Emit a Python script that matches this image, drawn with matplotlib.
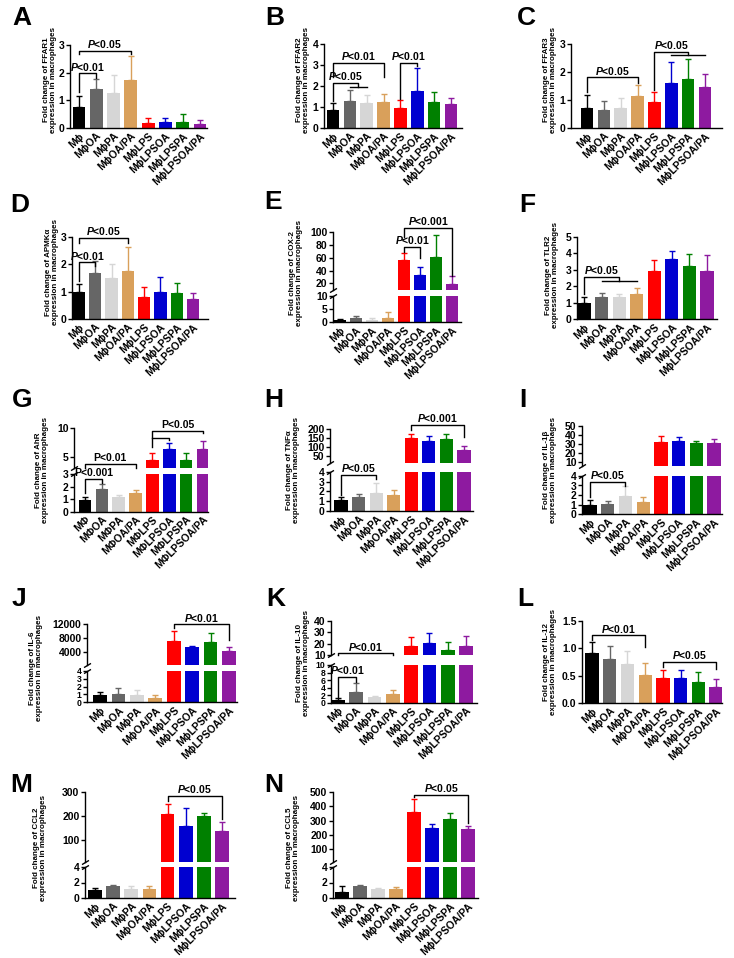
import numpy as np
import matplotlib.pyplot as plt

plt.rcParams['font.family'] = ['Liberation Sans', 'DejaVu Sans']
plt.rcParams['font.weight'] = 'bold'
plt.rcParams['mathtext.fontset'] = 'custom'
plt.rcParams['mathtext.it'] = 'Liberation Sans:italic:bold'
plt.rcParams['mathtext.rm'] = 'Liberation Sans:bold'

# groups and colours
groups = ["Mϕ", "MϕOA", "MϕPA", "MϕOA/PA", "MϕLPS", "MϕLPSOA", "MϕLPSPA", "MϕLPSOA/PA"]
groups_G = [g.replace("ϕ", "Φ") for g in groups]
colors = ["#000000", "#666666", "#d6d6d6", "#d9a05b", "#ff0000", "#0000d0", "#008000", "#8e1aa0"]

# mean values and top of error bar (mean + SD)
ffar1_mean = [0.75, 1.42, 1.25, 1.75, 0.18, 0.20, 0.22, 0.15]
ffar1_top = [1.15, 1.78, 1.90, 2.62, 0.35, 0.35, 0.50, 0.30]
ffar2_mean = [0.85, 1.30, 1.20, 1.25, 0.93, 1.77, 1.25, 1.13]
ffar2_top = [1.17, 1.82, 1.57, 1.62, 1.33, 2.85, 1.73, 1.45]
ffar3_mean = [0.72, 0.65, 0.72, 1.15, 0.93, 1.62, 1.75, 1.47]
ffar3_top = [1.17, 0.97, 1.08, 1.55, 1.30, 2.37, 2.47, 1.93]
ampk_mean = [0.97, 1.68, 1.50, 1.75, 0.82, 0.98, 0.95, 0.75]
ampk_top = [1.27, 2.13, 2.02, 2.62, 1.18, 1.55, 1.30, 0.95]
cox2_mean = [0.8, 1.5, 1.0, 1.5, 56, 33, 62, 19]
cox2_top = [1.3, 2.2, 1.5, 3.8, 67, 46, 96, 31]
tlr2_mean = [1.00, 1.37, 1.35, 1.55, 2.90, 3.68, 3.22, 2.93]
tlr2_top = [1.37, 1.57, 1.50, 1.87, 3.60, 4.12, 3.98, 3.88]
ahr_mean = [0.95, 1.80, 1.15, 1.45, 4.4, 6.3, 4.5, 6.3]
ahr_top = [1.15, 2.20, 1.30, 1.70, 5.6, 7.5, 5.6, 7.7]
tnf_mean = [1.10, 1.45, 1.80, 1.60, 148, 133, 147, 83]
tnf_top = [1.40, 1.70, 2.85, 2.15, 172, 160, 175, 108]
il1b_mean = [1.00, 1.05, 1.90, 1.30, 32, 33, 30.5, 31]
il1b_top = [1.45, 1.40, 2.90, 1.75, 39, 38, 33, 35]
il6_mean = [0.95, 1.10, 0.95, 0.55, 7200, 5300, 6900, 4200]
il6_top = [1.35, 1.80, 1.60, 0.95, 9900, 5700, 9500, 5300]
il10_mean = [0.8, 2.9, 1.6, 2.2, 18, 20.5, 14.5, 17.5]
il10_top = [1.2, 5.1, 1.9, 3.5, 26, 29, 21, 27]
il12_mean = [0.92, 0.80, 0.72, 0.52, 0.45, 0.45, 0.38, 0.30]
il12_top = [1.12, 1.05, 0.95, 0.73, 0.60, 0.60, 0.56, 0.43]
ccl2_mean = [1.0, 1.5, 1.2, 1.1, 210, 160, 200, 140]
ccl2_top = [1.3, 1.7, 1.5, 1.6, 250, 235, 215, 175]
ccl5_mean = [0.8, 1.5, 1.1, 1.1, 360, 245, 310, 240]
ccl5_top = [1.5, 1.7, 1.3, 1.4, 450, 275, 355, 265]

W, H = 734, 958
fig = plt.figure(figsize=(W / 100, H / 100), dpi=100)


def fbox(x0, x1, ytop, ybot):
    return [x0 / W, 1 - ybot / H, (x1 - x0) / W, (ybot - ytop) / H]


def style(ax, ticks, bottom=True, size=7.5):
    ax.spines['top'].set_visible(False)
    ax.spines['right'].set_visible(False)
    ax.spines['left'].set_linewidth(1)
    ax.spines['bottom'].set_linewidth(1)
    ax.spines['bottom'].set_visible(bottom)
    ax.set_yticks(ticks)
    ax.tick_params(axis='y', length=3, width=1, labelsize=size, pad=1)
    ax.tick_params(axis='x', length=0)
    ax.patch.set_alpha(0)


def bars(ax, mean, top, ylim):
    x = np.arange(len(mean))
    ax.bar(x, mean, width=0.75, color=colors, zorder=2)
    for xi, m, t, c in zip(x, mean, top, colors):
        # only draw error bars that fall inside this axis segment
        if t <= ylim[0] or m >= ylim[1]:
            continue
        ax.errorbar(xi, m, yerr=[[0], [t - m]], fmt='none', ecolor=c,
                    elinewidth=1, capsize=2.5, capthick=1, zorder=1)


def bracket(ax, b):
    if b[0] == 'g':
        # one bar against a group of bars
        _, x0, g1, g2, ytop, yleg, ylow, txt = b
        xm = (g1 + g2) / 2
        ax.plot([x0, x0, xm, xm], [yleg, ytop, ytop, ylow], color='k', lw=1, clip_on=False)
        ax.plot([g1, g2], [ylow, ylow], color='k', lw=1, clip_on=False)
        xt, yt = (x0 + xm) / 2, ytop
    else:
        x1, x2, y, l1, l2, txt = b
        ax.plot([x1, x1, x2, x2], [l1, y, y, l2], color='k', lw=1, clip_on=False)
        xt, yt = (x1 + x2) / 2, y
    if txt:
        ax.annotate(txt, (xt, yt), xytext=(0, 0.5), textcoords='offset points',
                    ha='center', va='bottom', fontsize=7.5, annotation_clip=False)


def break_marks(ax_hi, ax_lo):
    kw = dict(marker=[(-1, -0.6), (1, 0.6)], markersize=5, linestyle='none',
              color='k', mec='k', mew=1, clip_on=False)
    ax_hi.plot([0], [0], transform=ax_hi.transAxes, **kw)
    ax_lo.plot([0], [1], transform=ax_lo.transAxes, **kw)


P05 = "$P$<0.05"
P01 = "$P$<0.01"
P001 = "$P$<0.001"

# layout per panel: x = (axis left, first bar centre, last bar centre, axis right) in px
panels = [
    dict(L='A', Lxy=(12, 6), gene='FFAR1', mean=ffar1_mean, top=ffar1_top,
         x=(70, 79, 200, 207), lab=(50, 80),
         lo=((45, 128), (0, 3), [0, 1, 2, 3],
             [(0, 1, 1.97, 1.3, 1.8, P01), (0, 3, 2.8, 2.68, 2.66, P05)])),
    dict(L='B', Lxy=(265, 6), gene='FFAR2', mean=ffar2_mean, top=ffar2_top,
         x=(324, 333, 451, 462), lab=(303, 80),
         lo=((44, 128), (0, 4), [0, 1, 2, 3, 4],
             [('g', 0, 1, 2, 2.16, 1.3, 1.94, P05), (0, 3, 3.09, 2.42, 2.42, P01),
              (4, 5, 3.09, 1.4, 2.93, P01)])),
    dict(L='C', Lxy=(517, 6), gene='FFAR3', mean=ffar3_mean, top=ffar3_top,
         x=(571, 587, 705, 722), lab=(550, 80),
         lo=((44, 128), (0, 3), [0, 1, 2, 3],
             [(0, 3, 1.81, 1.3, 1.6, P05), ('g', 4, 5, 7, 2.71, 1.35, 2.59, P05)])),
    dict(L='D', Lxy=(10, 193), gene='APMKα', mean=ampk_mean, top=ampk_top,
         x=(72, 79, 193, 208), lab=(52, 272),
         lo=((237, 319), (0, 3), [0, 1, 2, 3],
             [(0, 1, 2.07, 1.38, 1.93, P01), (0, 3, 2.96, 2.78, 2.78, P05)])),
    dict(L='E', Lxy=(264, 190), gene='COX-2', mean=cox2_mean, top=cox2_top,
         x=(333, 340, 452, 461), lab=(296, 273),
         hi=((232.3, 289.7), (10, 100), [20, 40, 60, 80, 100],
             [(4, 5, 77.4, 69.6, 59.2, P01), (4, 7, 107, 92, 31.4, P001)]),
         lo=((295.7, 322.3), (0, 10), [0, 5, 10], [])),
    dict(L='F', Lxy=(519, 193), gene='TLR2', mean=tlr2_mean, top=tlr2_top,
         x=(577, 584, 707, 717), lab=(552, 275),
         lo=((237, 319), (0, 5), [0, 1, 2, 3, 4, 5],
             [('g', 0, 1, 3, 2.59, 1.55, 2.33, P05)])),
    dict(L='G', Lxy=(12, 388), gene='AhR', mean=ahr_mean, top=ahr_top, names=groups_G,
         x=(74, 85, 203, 208), lab=(42, 470),
         hi=((428.3, 468.3), (3, 10), [5, 10],
             [(0, 3, 3.82, 3.0, 3.0, "P<0.01"), (4, 7, 9.59, 6.8, 9.1, "P<0.05"),
              (4, 5, 8.35, 8.35, 7.9, "")]),
         lo=((474, 511.7), (0, 3), [0, 1, 2, 3],
             [(0, 1, 2.6, 1.45, 2.25, "P<0.001")])),
    dict(L='H', Lxy=(264, 388), gene='TNFα', mean=tnf_mean, top=tnf_top,
         x=(330, 341, 464, 473), lab=(293, 470),
         hi=((429, 463.3), (10, 200), [50, 100, 150, 200],
             [(4, 7, 222, 194, 154, P001)]),
         lo=((471.7, 511), (0, 4), [0, 1, 2, 3, 4],
             [(0, 2, 3.66, 1.6, 3.3, P05)])),
    dict(L='I', Lxy=(519, 388), gene='IL-1β', mean=il1b_mean, top=il1b_top,
         x=(582, 590, 714, 722), lab=(550, 470),
         hi=((425.7, 466.2), (5, 50), [10, 20, 30, 40, 50], []),
         lo=((476, 514), (0, 4), [0, 1, 2, 3, 4],
             [(0, 2, 3.4, 1.75, 2.95, P05)])),
    dict(L='J', Lxy=(12, 587), gene='IL-6', mean=il6_mean, top=il6_top,
         x=(87, 100, 229, 237), lab=(36, 668),
         hi=((624.3, 665), (100, 12000), [4000, 8000, 12000],
             [(4, 7, 12000, 10830, 7415, P01)]),
         lo=((670.7, 702.3), (0, 4), [0, 1, 2, 3, 4], []), lo_size=6.2),
    dict(L='K', Lxy=(266, 587), gene='IL-10', mean=il10_mean, top=il10_top,
         x=(331, 338, 466, 477), lab=(303, 663),
         hi=((620.7, 655), (10, 40), [10, 20, 30, 40],
             [(0, 3, 11.4, 10, 10, P01)]),
         lo=((665, 702.7), (0, 10), [0, 2, 4, 6, 8, 10],
             [(0, 1, 6.9, 1.6, 5.4, P01)]), lo_size=6.2),
    dict(L='L', Lxy=(517, 587), gene='IL-12', mean=il12_mean, top=il12_top,
         x=(582, 592, 716, 722), lab=(550, 662),
         lo=((621, 703), (0, 1.5), [0.0, 0.5, 1.0, 1.5],
             [(0, 3, 1.24, 1.15, 1.02, P01), (4, 7, 0.75, 0.66, 0.63, P05)])),
    dict(L='M', Lxy=(10, 773), gene='CCL2', mean=ccl2_mean, top=ccl2_top,
         x=(85, 95, 222, 235), lab=(40, 848),
         hi=((792, 862), (10, 300), [100, 200, 300],
             [(4, 7, 285, 262, 190, P05)]),
         lo=((867, 898), (0, 4), [0, 2, 4], [])),
    dict(L='N', Lxy=(264, 773), gene='CCL5', mean=ccl5_mean, top=ccl5_top,
         x=(333, 342, 468, 478), lab=(293, 848),
         hi=((792, 862), (10, 500), [100, 200, 300, 400, 500],
             [(4, 7, 480, 462, 280, P05)]),
         lo=((867, 898), (0, 4), [0, 2, 4], [])),
]

for p in panels:
    left, c0, c7, right = p['x']
    sp = (c7 - c0) / 7
    xlim = (-(c0 - left) / sp, 7 + (right - c7) / sp)
    names = p.get('names', groups)

    (lt, lb), ylim, ticks, brs = p['lo']
    ax_lo = fig.add_axes(fbox(left, right, lt, lb))
    bars(ax_lo, p['mean'], p['top'], ylim)
    ax_lo.set_xlim(*xlim)
    ax_lo.set_ylim(*ylim)
    style(ax_lo, ticks, size=p.get('lo_size', 7.5))
    ax_lo.set_xticks(range(8))
    ax_lo.set_xticklabels(names, rotation=45, ha='right', rotation_mode='anchor', fontsize=7.5)
    ax_lo.tick_params(axis='x', pad=2)
    for b in brs:
        bracket(ax_lo, b)

    if 'hi' in p:
        (ht, hb), ylim, ticks, brs = p['hi']
        ax_hi = fig.add_axes(fbox(left, right, ht, hb))
        bars(ax_hi, p['mean'], p['top'], ylim)
        ax_hi.set_xlim(*xlim)
        ax_hi.set_ylim(*ylim)
        style(ax_hi, ticks, bottom=False)
        ax_hi.set_xticks([])
        for b in brs:
            bracket(ax_hi, b)
        break_marks(ax_hi, ax_lo)

    fig.text(p['lab'][0] / W, 1 - p['lab'][1] / H,
             f"Fold change of {p['gene']}\nexpression in macrophages",
             rotation=90, ha='center', va='center', fontsize=5.8, linespacing=1.0)
    fig.text(p['Lxy'][0] / W, 1 - p['Lxy'][1] / H, p['L'], fontsize=19,
             ha='left', va='top')

fig.savefig("out.png", dpi=100)
